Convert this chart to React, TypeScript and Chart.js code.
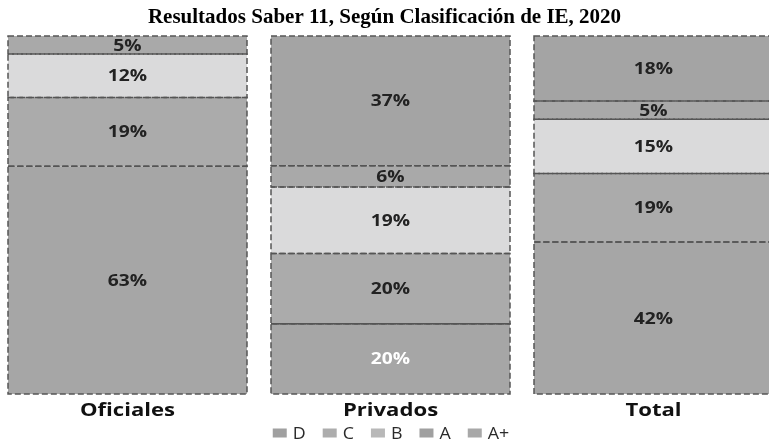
import React, { useEffect, useRef } from "react";
import { Chart, registerables } from "chart.js";

Chart.register(...registerables);

const chartTitle = "Resultados Saber 11, Según Clasificación de IE, 2020";
const categories = ["Oficiales", "Privados", "Total"];
const seriesNames = ["D", "C", "B", "A", "A+"];
const valuesD = [63, 20, 42];
const valuesC = [19, 20, 19];
const valuesB = [12, 19, 15];
const valuesA = [5, 6, 5];
const valuesAPlus = [0, 37, 18];
const seriesColors = ["#a6a6a6", "#ababab", "#dadadb", "#a9a9a9", "#a4a4a4"];
const legendColors = ["#a0a0a0", "#adadad", "#b8b8b8", "#a0a0a0", "#a8a8a8"];
const highlightSeries = "D";
const highlightCategory = "Privados";

const allSeries = [valuesD, valuesC, valuesB, valuesA, valuesAPlus];
const totals = categories.map((_, i) => allSeries.reduce((s, arr) => s + arr[i], 0));

const CANVAS_LEFT = -4;
const CANVAS_W = 789;
const CANVAS_H = 445;
const PAGE_W = 769;

function stretchedText(ctx: any, text: string, x: number, y: number, sx: number) {
  ctx.save();
  ctx.translate(x, y);
  ctx.scale(sx, 1);
  ctx.fillText(text, 0, 0);
  ctx.restore();
}

const segmentPlugin = {
  id: "segments",
  afterDatasetsDraw(chart: any) {
    const ctx = chart.ctx;
    chart.data.datasets.forEach((ds: any, di: number) => {
      const meta = chart.getDatasetMeta(di);
      meta.data.forEach((el: any, i: number) => {
        const raw = allSeries[di][i];
        if (!raw) return;
        const { x, y, base, width } = el.getProps(["x", "y", "base", "width"], true);
        const left = x - width / 2;
        const top = Math.min(y, base);
        const h = Math.abs(base - y);
        const hl = seriesNames[di] === highlightSeries && categories[i] === highlightCategory;
        ctx.save();
        ctx.strokeStyle = "#555555";
        ctx.lineWidth = 1.5;
        ctx.setLineDash([6, 3]);
        ctx.strokeRect(left, top, width, h);
        if (hl) {
          ctx.setLineDash([]);
          ctx.beginPath();
          ctx.moveTo(left, top);
          ctx.lineTo(left + width, top);
          ctx.stroke();
        }
        ctx.setLineDash([]);
        ctx.fillStyle = hl ? "#ffffff" : "#222222";
        ctx.font = "bold 16px 'Open Sans', sans-serif";
        ctx.textAlign = "center";
        ctx.textBaseline = "middle";
        stretchedText(ctx, raw + "%", x, (y + base) / 2 + 1, 1.2);
        ctx.restore();
      });
    });
  },
  afterDraw(chart: any) {
    const ctx = chart.ctx;
    ctx.save();
    // title
    ctx.fillStyle = "#000";
    ctx.font = "bold 21px 'Liberation Serif', serif";
    ctx.textAlign = "center";
    ctx.textBaseline = "middle";
    ctx.fillText(chartTitle, PAGE_W / 2 - CANVAS_LEFT, 18);
    // category labels
    ctx.fillStyle = "#111";
    ctx.font = "bold 17px 'Open Sans', sans-serif";
    const xs = chart.scales.x;
    categories.forEach((c, i) => {
      stretchedText(ctx, c, xs.getPixelForValue(i), 411, 1.3);
    });
    // legend
    ctx.font = "17px 'Open Sans', sans-serif";
    ctx.textAlign = "left";
    const bw = 14;
    const bh = 9;
    const gapText = 6;
    const gapItem = 17;
    const sx = 1.05;
    const items = chart.data.datasets.map((ds: any, di: number) => ({
      label: ds.label,
      color: legendColors[di],
      tw: ctx.measureText(ds.label).width * sx,
    }));
    const total =
      items.reduce((s: number, it: any) => s + bw + gapText + it.tw, 0) + gapItem * (items.length - 1);
    let xx = 391 - CANVAS_LEFT - total / 2;
    const yy = 433;
    items.forEach((it: any) => {
      ctx.fillStyle = it.color;
      ctx.fillRect(xx, yy - bh / 2, bw, bh);
      ctx.fillStyle = "#2a2a2a";
      stretchedText(ctx, it.label, xx + bw + gapText, yy + 1, sx);
      xx += bw + gapText + it.tw + gapItem;
    });
    ctx.restore();
  },
};

export default function App() {
  const ref = useRef<HTMLCanvasElement | null>(null);
  useEffect(() => {
    if (!ref.current) return;
    const chart = new Chart(ref.current, {
      type: "bar",
      data: {
        labels: categories,
        datasets: seriesNames.map((name, di) => ({
          label: name,
          data: allSeries[di].map((v, i) => (v / totals[i]) * 100),
          backgroundColor: seriesColors[di],
          borderWidth: 0,
          barPercentage: 239 / 263,
          categoryPercentage: 1,
        })),
      },
      options: {
        responsive: false,
        animation: false,
        layout: { padding: { top: 36, bottom: 51, left: 0, right: 0 } },
        plugins: {
          legend: { display: false },
          title: { display: false },
          tooltip: { enabled: false },
        },
        scales: {
          x: {
            stacked: true,
            display: false,
            offset: true,
          },
          y: {
            stacked: true,
            display: false,
            min: 0,
            max: 100,
          },
        },
      },
      plugins: [segmentPlugin],
    });
    return () => chart.destroy();
  }, []);
  return (
    <div
      style={{
        position: "fixed",
        left: 0,
        top: 0,
        width: PAGE_W,
        height: CANVAS_H,
        overflow: "hidden",
        background: "#fff",
      }}
    >
      <canvas
        ref={ref}
        width={CANVAS_W}
        height={CANVAS_H}
        style={{ position: "absolute", left: CANVAS_LEFT, top: 0, width: CANVAS_W, height: CANVAS_H }}
      />
    </div>
  );
}
